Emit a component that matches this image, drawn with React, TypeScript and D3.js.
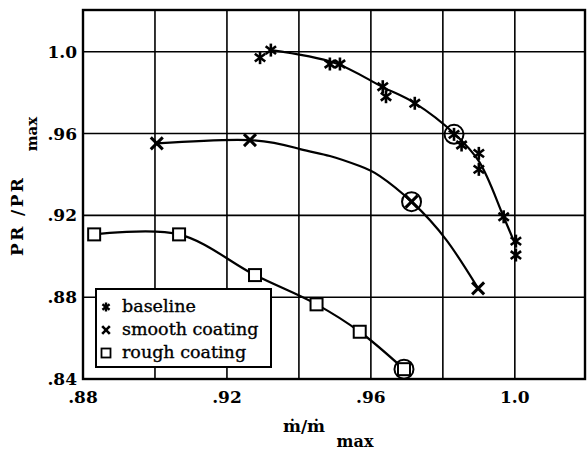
import React from "react";
import * as d3 from "d3";

// ---- data ----
const baselineX = [0.9292, 0.9322, 0.9486, 0.9514, 0.9633, 0.9642, 0.9722, 0.9831, 0.9852, 0.99, 0.99, 0.9969, 1.0003, 1.0003];
const baselineY = [0.9971, 1.0008, 0.994, 0.994, 0.9829, 0.978, 0.9748, 0.9596, 0.9544, 0.9503, 0.9425, 0.9193, 0.9074, 0.9006];
const baselineCurveX = [0.9322, 0.95, 0.9633, 0.9722, 0.9833, 0.99, 0.9969, 1.0003];
const baselineCurveY = [1.0008, 0.9945, 0.9827, 0.9749, 0.9598, 0.9465, 0.9192, 0.905];

const smoothX = [0.9005, 0.9264, 0.9713, 0.9898];
const smoothY = [0.9552, 0.9568, 0.9267, 0.8843];
const smoothCurveX = [0.9005, 0.9264, 0.9403, 0.9486, 0.9569, 0.9625, 0.9713, 0.981, 0.9898];
const smoothCurveY = [0.9552, 0.9568, 0.9524, 0.949, 0.9441, 0.9392, 0.9267, 0.9079, 0.8843];

const roughX = [0.8831, 0.9067, 0.9278, 0.9449, 0.9569, 0.9692];
const roughY = [0.9107, 0.9107, 0.8908, 0.8765, 0.8631, 0.8448];

const circledX = [0.9831, 0.9713, 0.9692];
const circledY = [0.9596, 0.9267, 0.8448];

const xGrid = [0.9, 0.92, 0.94, 0.96, 0.98, 1.0];
const xTicks = [0.88, 0.92, 0.96, 1.0];
const xTickLabels = [".88", ".92", ".96", "1.0"];
const yGrid = [0.88, 0.92, 0.96, 1.0];
const yTicks = [0.84, 0.88, 0.92, 0.96, 1.0];
const yTickLabels = [".84", ".88", ".92", ".96", "1.0"];
const legendLabels = ["baseline", "smooth coating", "rough coating"];

const FONT = "'DejaVu Serif', serif";

const x = d3.scaleLinear().domain([0.88, 1.0195]).range([83, 585]);
const y = d3.scaleLinear().domain([0.84, 1.0204]).range([379, 10]);

function Asterisk({ cx, cy, r, sw }: { cx: number; cy: number; r: number; sw: number }) {
  const d = r * 0.8;
  return (
    <g stroke="#000" strokeWidth={sw} strokeLinecap="butt">
      <line x1={cx} y1={cy - r} x2={cx} y2={cy + r} />
      <line x1={cx - d} y1={cy - d * 0.75} x2={cx + d} y2={cy + d * 0.75} />
      <line x1={cx - d} y1={cy + d * 0.75} x2={cx + d} y2={cy - d * 0.75} />
    </g>
  );
}

function XMark({ cx, cy, r, sw }: { cx: number; cy: number; r: number; sw: number }) {
  return (
    <g stroke="#000" strokeWidth={sw}>
      <line x1={cx - r} y1={cy - r} x2={cx + r} y2={cy + r} />
      <line x1={cx - r} y1={cy + r} x2={cx + r} y2={cy - r} />
    </g>
  );
}

function Square({ cx, cy, s, sw }: { cx: number; cy: number; s: number; sw: number }) {
  return <rect x={cx - s / 2} y={cy - s / 2} width={s} height={s} fill="#fff" stroke="#000" strokeWidth={sw} />;
}

export default function App() {
  const line = d3
    .line<[number, number]>()
    .x((d) => x(d[0]))
    .y((d) => y(d[1]))
    .curve(d3.curveCatmullRom.alpha(0.5));
  const natural = d3
    .line<[number, number]>()
    .x((d) => x(d[0]))
    .y((d) => y(d[1]))
    .curve(d3.curveNatural);

  const bCurve = line(baselineCurveX.map((v, i) => [v, baselineCurveY[i]] as [number, number])) || "";
  const sCurve = natural(smoothCurveX.map((v, i) => [v, smoothCurveY[i]] as [number, number])) || "";
  const rCurve = line(roughX.map((v, i) => [v, roughY[i]] as [number, number])) || "";

  const [x0, x1] = x.range();
  const [y0, y1] = y.range();

  return (
    <svg width={588} height={450} style={{ position: "absolute", left: 0, top: 0, background: "#fff" }}>
      <rect x={0} y={0} width={588} height={450} fill="#fff" />
      {/* grid */}
      {xGrid.map((v) => (
        <line key={"gx" + v} x1={x(v)} x2={x(v)} y1={y1} y2={y0} stroke="#000" strokeWidth={1.6} />
      ))}
      {yGrid.map((v) => (
        <line key={"gy" + v} x1={x0} x2={x1} y1={y(v)} y2={y(v)} stroke="#000" strokeWidth={1.6} />
      ))}
      {/* curves */}
      <path d={bCurve} fill="none" stroke="#000" strokeWidth={2.2} />
      <path d={sCurve} fill="none" stroke="#000" strokeWidth={2.2} />
      <path d={rCurve} fill="none" stroke="#000" strokeWidth={2.2} />
      {/* circles */}
      {circledX.map((v, i) => (
        <circle key={"c" + i} cx={x(v)} cy={y(circledY[i])} r={9.5} fill="none" stroke="#000" strokeWidth={2} />
      ))}
      {/* markers */}
      {baselineX.map((v, i) => (
        <Asterisk key={"b" + i} cx={x(v)} cy={y(baselineY[i])} r={6.5} sw={2.6} />
      ))}
      {smoothX.map((v, i) => (
        <XMark key={"s" + i} cx={x(v)} cy={y(smoothY[i])} r={6} sw={3} />
      ))}
      {roughX.map((v, i) => (
        <Square key={"r" + i} cx={x(v)} cy={y(roughY[i])} s={12} sw={2} />
      ))}
      {/* frame */}
      <rect x={x0} y={y1} width={x1 - x0} height={y0 - y1} fill="none" stroke="#000" strokeWidth={2.4} />
      {/* legend */}
      <rect x={96} y={289} width={175} height={78} fill="#fff" stroke="#000" strokeWidth={2} />
      <Asterisk cx={106} cy={307} r={4.5} sw={2.4} />
      <XMark cx={106} cy={330} r={3.8} sw={2.6} />
      <Square cx={106} cy={353} s={9} sw={1.8} />
      {legendLabels.map((t, i) => (
        <text key={t} x={122} y={312 + i * 23} fontFamily={FONT} fontSize={17.5} fill="#000" stroke="#000" strokeWidth={0.35}>
          {t}
        </text>
      ))}
      {/* y ticks */}
      {yTicks.map((v, i) => (
        <text key={"yt" + v} x={77} y={y(v)} textAnchor="end" dominantBaseline="central" fontFamily={FONT} fontWeight="bold" fontSize={17}>
          {yTickLabels[i]}
        </text>
      ))}
      {/* x ticks */}
      {xTicks.map((v, i) => (
        <text key={"xt" + v} x={x(v)} y={403} textAnchor="middle" fontFamily={FONT} fontWeight="bold" fontSize={17}>
          {xTickLabels[i]}
        </text>
      ))}
      {/* x title */}
      <text x={304} y={432} textAnchor="middle" fontFamily={FONT} fontWeight="bold" fontSize={17}>
        {"ṁ/ṁ"}
      </text>
      <text x={355} y={447} textAnchor="middle" fontFamily={FONT} fontWeight="bold" fontSize={16}>
        max
      </text>
      {/* y title */}
      <text
        transform="translate(17,217) rotate(-90)"
        textAnchor="middle"
        dominantBaseline="central"
        fontFamily={FONT}
        fontWeight="bold"
        fontSize={17}
        textLength={78}
        lengthAdjust="spacing"
      >
        PR /PR
      </text>
      <text
        transform="translate(32,134) rotate(-90)"
        textAnchor="middle"
        dominantBaseline="central"
        fontFamily={FONT}
        fontWeight="bold"
        fontSize={15}
      >
        max
      </text>
    </svg>
  );
}
